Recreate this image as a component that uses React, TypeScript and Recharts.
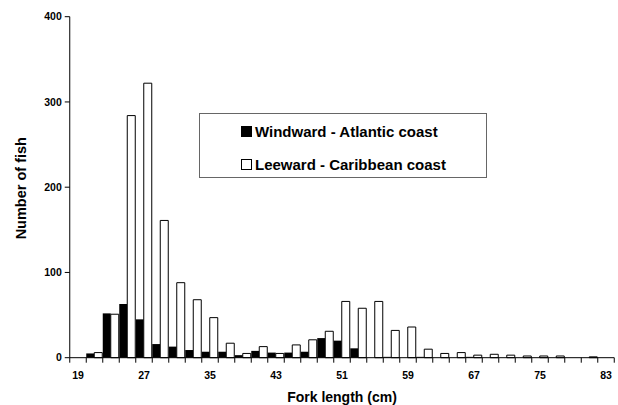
import React from 'react';
import { BarChart, Bar, XAxis, YAxis, Legend, Label } from 'recharts';

const forkLengths = [19, 21, 23, 25, 27, 29, 31, 33, 35, 37, 39, 41, 43, 45, 47, 49, 51, 53, 55, 57, 59, 61, 63, 65, 67, 69, 71, 73, 75, 77, 79, 81, 83];
const windward = [0, 5, 52, 63, 45, 16, 13, 9, 7, 7, 3, 8, 6, 6, 7, 23, 20, 11, 0, 1, 0, 1, 0, 0, 1, 0, 0, 0, 0, 0, 0, 0, 0];
const leeward = [0, 6, 51, 284, 322, 161, 88, 68, 47, 17, 5, 13, 5, 15, 21, 31, 66, 58, 66, 32, 36, 10, 5, 6, 3, 4, 3, 2, 2, 2, 0, 1, 0];
const xTickLabels = [19, 27, 35, 43, 51, 59, 67, 75, 83];
const yTicks = [0, 100, 200, 300, 400];
const seriesOrder = ['windward', 'leeward'];

const data = forkLengths.map((len, i) => ({ length: len, windward: windward[i], leeward: leeward[i] }));

const FONT = '"Liberation Sans", Arial, Helvetica, sans-serif';
const W = 618;
const H = 405;
const MARGIN = { top: 16.7, right: 3.75, bottom: 17.3, left: 9.75 };
const Y_AXIS_W = 60;
const X_AXIS_H = 30;
const BAND = (W - MARGIN.left - MARGIN.right - Y_AXIS_W) / forkLengths.length;

const XTick = (props: any) => {
  const { x, y, payload, index } = props;
  const left = x - BAND / 2;
  const right = x + BAND / 2;
  return (
    <g>
      <line x1={left} y1={y} x2={left} y2={y + 5} stroke="#000" strokeWidth={1} />
      {index === forkLengths.length - 1 && (
        <line x1={right} y1={y} x2={right} y2={y + 5} stroke="#000" strokeWidth={1} />
      )}
      {xTickLabels.includes(payload.value) && (
        <text x={x} y={y + 21.6} textAnchor="middle" fontFamily={FONT} fontWeight="bold" fontSize={10.5} fill="#000">
          {payload.value}
        </text>
      )}
    </g>
  );
};

const XTitle = (props: any) => {
  const vb = props.viewBox || {};
  const cx = vb.x + vb.width / 2;
  return (
    <text x={cx} y={vb.y + 44} textAnchor="middle" fontFamily={FONT} fontWeight="bold" fontSize={14} fill="#000">
      Fork length (cm)
    </text>
  );
};

const YTitle = (props: any) => {
  const vb = props.viewBox || {};
  const cy = vb.y + vb.height / 2 + 1;
  const cx = 26;
  return (
    <text x={cx} y={cy} textAnchor="middle" transform={`rotate(-90, ${cx}, ${cy})`} fontFamily={FONT} fontWeight="bold" fontSize={14.5} fill="#000">
      Number of fish
    </text>
  );
};

const LegendBox = (props: any) => {
  const payload = [...(props.payload || [])].sort(
    (a: any, b: any) => seriesOrder.indexOf(String(a.dataKey)) - seriesOrder.indexOf(String(b.dataKey))
  );
  return (
    <div
      style={{
        position: 'relative',
        width: 288,
        height: 65,
        boxSizing: 'border-box',
        border: '1px solid #666',
        background: '#fff',
        fontFamily: FONT,
      }}
    >
      {payload.map((item: any, i: number) => (
        <div
          key={i}
          style={{
            position: 'absolute',
            left: 41,
            top: i === 0 ? 6 : 39,
            height: 22,
            display: 'flex',
            alignItems: 'center',
            whiteSpace: 'nowrap',
          }}
        >
          <span
            style={{
              display: 'inline-block',
              width: 11,
              height: 11,
              boxSizing: 'border-box',
              background: item.color,
              border: '1px solid #000',
              marginRight: 3,
            }}
          />
          <span style={{ fontSize: 15, fontWeight: 'bold', color: '#000', lineHeight: '17px' }}>{item.value}</span>
        </div>
      ))}
    </div>
  );
};

export default function App() {
  return (
    <div style={{ position: 'absolute', left: 0, top: 0, width: W, height: H, background: '#fff' }}>
      <BarChart width={W} height={H} data={data} margin={MARGIN} barCategoryGap={0} barGap={0}>
        <XAxis
          dataKey="length"
          interval={0}
          tickLine={false}
          tickSize={0}
          tickMargin={0}
          height={X_AXIS_H}
          tick={<XTick />}
          axisLine={{ stroke: '#000', strokeWidth: 1 }}
        >
          <Label content={<XTitle />} />
        </XAxis>
        <YAxis
          width={Y_AXIS_W}
          domain={[0, 400]}
          ticks={yTicks}
          interval={0}
          tickSize={5}
          tickMargin={3}
          tickLine={{ stroke: '#000' }}
          axisLine={{ stroke: '#000', strokeWidth: 1 }}
          tick={{ fill: '#000', fontSize: 10.5, fontWeight: 'bold', fontFamily: FONT }}
        >
          <Label content={<YTitle />} />
        </YAxis>
        <Legend
          layout="vertical"
          align="center"
          verticalAlign="middle"
          wrapperStyle={{ left: 199, top: 113, width: 288, height: 65 }}
          content={<LegendBox />}
        />
        <Bar dataKey="windward" name="Windward - Atlantic coast" fill="#000" isAnimationActive={false} />
        <Bar dataKey="leeward" name="Leeward - Caribbean coast" fill="#fff" stroke="#000" strokeWidth={1} isAnimationActive={false} />
      </BarChart>
    </div>
  );
}
